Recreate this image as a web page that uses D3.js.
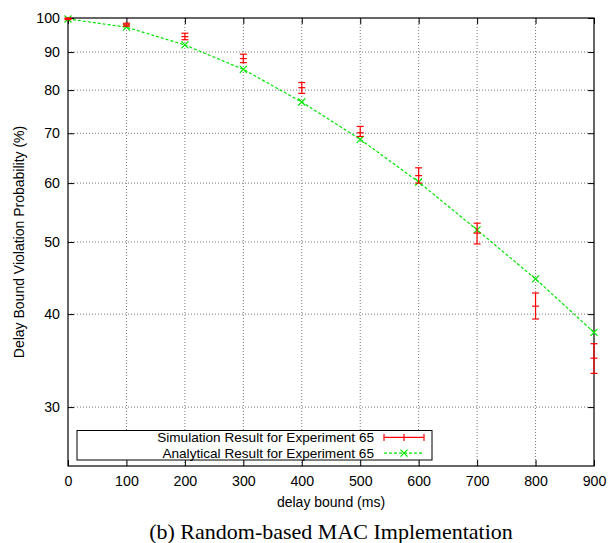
<!DOCTYPE html>
<html><head><meta charset="utf-8">
<script src="https://cdn.jsdelivr.net/npm/d3@7"></script>
<style>body{margin:0;background:#fff;} svg{display:block;}</style>
</head><body>
<script>
const delays = [0,100,200,300,400,500,600,700,800,900];
const analytical = [99.7,97.2,92.0,85.3,77.1,68.7,60.2,51.9,44.6,37.8];
const simMean = [99.8,97.9,94.4,88.2,80.6,70.1,61.4,51.4,41.0,34.9];
const simLow  = [99.5,97.5,93.5,87.1,79.2,69.3,60.0,49.7,39.4,33.3];
const simHigh = [100.0,98.4,95.4,89.4,81.9,71.5,62.9,53.0,42.7,36.5];
const xTicks = [0,100,200,300,400,500,600,700,800,900];
const yTicks = [30,40,50,60,70,80,90,100];
const seriesNames = ["Simulation Result for Experiment 65","Analytical Result for Experiment 65"];

const W=608,H=543;
const L=68,R=594,T=18,B=466;
const svg=d3.select("body").append("svg").attr("width",W).attr("height",H);
const x=d3.scaleLinear().domain([0,900]).range([L,R]);
const y=d3.scaleLog().domain([25,100]).range([B,T]);
const sans="'Liberation Sans', Arial, Helvetica, sans-serif";

// grid
const g=svg.append("g");
g.selectAll(".gx").data(xTicks.slice(1,-1)).join("line")
 .attr("x1",d=>x(d)).attr("x2",d=>x(d)).attr("y1",T).attr("y2",B)
 .attr("stroke","#777").attr("stroke-dasharray","1,2").attr("stroke-width",1);
g.selectAll(".gy").data(yTicks.filter(d=>d<100)).join("line")
 .attr("x1",L).attr("x2",R).attr("y1",d=>y(d)).attr("y2",d=>y(d))
 .attr("stroke","#777").attr("stroke-dasharray","1,2").attr("stroke-width",1);

// axes with inward ticks
const ax=svg.append("g").attr("transform",`translate(0,${B})`)
 .call(d3.axisBottom(x).tickValues(xTicks).tickSize(-6).tickPadding(10));
const ay=svg.append("g").attr("transform",`translate(${L},0)`)
 .call(d3.axisLeft(y).tickValues(yTicks).tickFormat(d3.format("d")).tickSize(-6).tickPadding(8));
const axT=svg.append("g").attr("transform",`translate(0,${T})`)
 .call(d3.axisTop(x).tickValues(xTicks).tickSize(-6).tickFormat(""));
const ayR=svg.append("g").attr("transform",`translate(${R},0)`)
 .call(d3.axisRight(y).tickValues(yTicks).tickSize(-6).tickFormat(""));
[ax,ay,axT,ayR].forEach(a=>{
  a.select(".domain").remove();
  a.selectAll("line").attr("stroke","#000");
  a.selectAll("text").attr("font-family",sans).attr("font-size",14.2).attr("fill","#000");
});
svg.append("rect").attr("x",L).attr("y",T).attr("width",R-L).attr("height",B-T)
 .attr("fill","none").attr("stroke","#000").attr("stroke-width",1.2);

// analytical line
const green="#00e600", red="#ff0000";
const line=d3.line().x((d,i)=>x(delays[i])).y(d=>y(d));
svg.append("path").datum(analytical).attr("d",line).attr("fill","none")
 .attr("stroke",green).attr("stroke-width",1.2).attr("stroke-dasharray","3,2");
const cross=(sel,s)=>sel.attr("d",`M${-s},${-s}L${s},${s}M${-s},${s}L${s},${-s}`)
 .attr("stroke",green).attr("stroke-width",1.2).attr("fill","none");
svg.selectAll(".xm").data(analytical).join("path")
 .attr("transform",(d,i)=>`translate(${x(delays[i])},${y(d)})`).call(cross,3.5);

// error bars
const eb=svg.append("g").attr("stroke",red).attr("stroke-width",1.2);
delays.forEach((d,i)=>{
  const cx=x(d);
  eb.append("line").attr("x1",cx).attr("x2",cx).attr("y1",y(simLow[i])).attr("y2",y(simHigh[i]));
  [simLow[i],simHigh[i],simMean[i]].forEach(v=>{
    eb.append("line").attr("x1",cx-3.5).attr("x2",cx+3.5).attr("y1",y(v)).attr("y2",y(v));
  });
});

// legend
const lg=svg.append("g");
lg.append("rect").attr("x",77).attr("y",430.5).attr("width",355).attr("height",29.5)
 .attr("fill","#fff").attr("stroke","#000").attr("stroke-width",1);
const ly=[437.4,453.1];
seriesNames.forEach((n,i)=>{
  lg.append("text").attr("x",374).attr("y",ly[i]).attr("dy","0.35em").attr("text-anchor","end")
   .attr("font-family",sans).attr("font-size",13.6).text(n);
});
lg.append("line").attr("x1",384).attr("x2",424).attr("y1",ly[0]).attr("y2",ly[0]).attr("stroke",red).attr("stroke-width",1.2);
[384,404,424].forEach(px=>lg.append("line").attr("x1",px).attr("x2",px).attr("y1",ly[0]-3.5).attr("y2",ly[0]+3.5).attr("stroke",red).attr("stroke-width",1.2));
lg.append("line").attr("x1",384).attr("x2",424).attr("y1",ly[1]).attr("y2",ly[1]).attr("stroke",green).attr("stroke-width",1.2).attr("stroke-dasharray","3,2");
lg.append("path").attr("transform",`translate(404,${ly[1]})`).call(cross,3.5);

// labels
svg.append("text").attr("x",(L+R)/2).attr("y",502).attr("dy","0.35em").attr("text-anchor","middle")
 .attr("font-family",sans).attr("font-size",14).text("delay bound (ms)");
svg.append("text").attr("transform",`translate(19,${(T+B)/2}) rotate(-90)`).attr("dy","0.35em")
 .attr("text-anchor","middle").attr("font-family",sans).attr("font-size",14)
 .text("Delay Bound Violation Probability (%)");
svg.append("text").attr("x",(L+R)/2).attr("y",539).attr("text-anchor","middle")
 .attr("font-family","'Liberation Serif', 'Times New Roman', serif").attr("font-size",22)
 .text("(b) Random-based MAC Implementation");
</script>
</body></html>
